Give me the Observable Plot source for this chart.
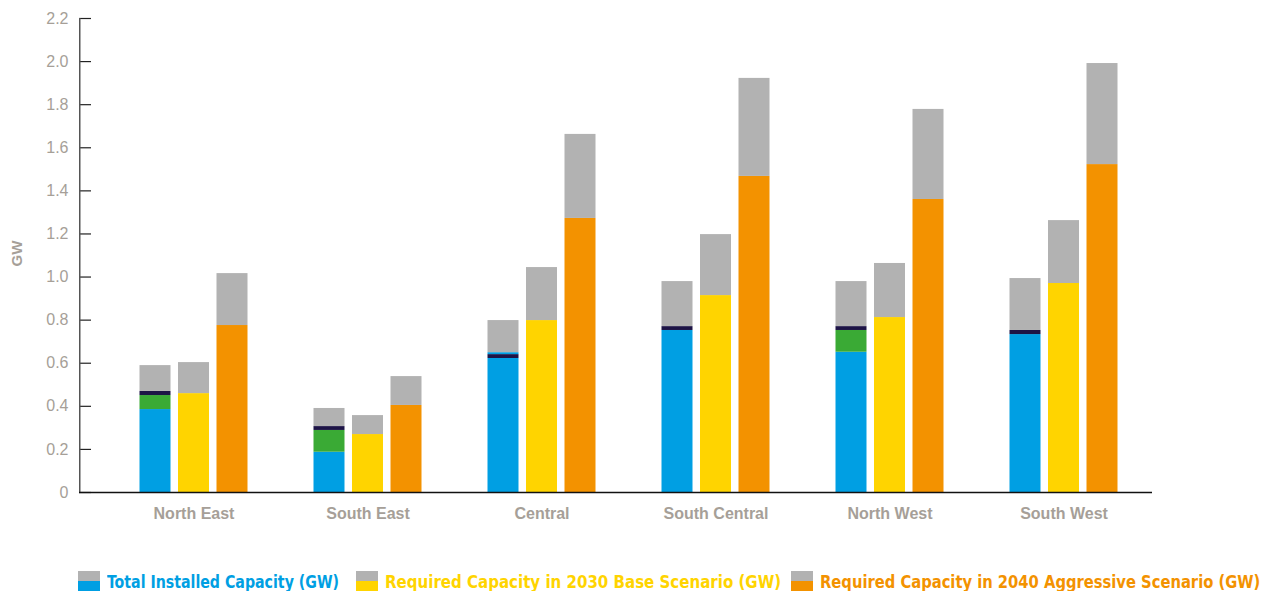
<!DOCTYPE html>
<html><head><meta charset="utf-8">
<script src="https://cdn.jsdelivr.net/npm/d3@7"></script>
<script src="https://cdn.jsdelivr.net/npm/@observablehq/plot@0.6"></script>
<style>
html,body{margin:0;padding:0;background:#fff;}
body{width:1266px;height:591px;overflow:hidden;font-family:"DejaVu Sans Condensed","Liberation Sans",sans-serif;}
#chart svg{display:block;}
#legend{position:relative;height:31px;}
.item{position:absolute;top:11px;display:flex;align-items:flex-start;}
.sw{width:22px;height:20px;margin-right:7px;flex:none;}
.lt{font-weight:bold;font-size:17.5px;line-height:22px;white-space:nowrap;transform-origin:0 50%;}
</style></head><body><div id="chart"></div><div id="legend"></div>
<script>
const regions = ["North East","South East","Central","South Central","North West","South West"];
// Total installed capacity stack components (GW)
const installedBlue  = [0.385, 0.187, 0.622, 0.752, 0.651, 0.733];
const installedGreen = [0.065, 0.101, 0.000, 0.000, 0.101, 0.000];
const installedNavy  = [0.019, 0.018, 0.018, 0.018, 0.018, 0.019];
const installedLight = [0.000, 0.000, 0.009, 0.000, 0.000, 0.000];
const installedTotal = [0.589, 0.390, 0.798, 0.979, 0.979, 0.993];
// Required capacity 2030 base scenario
const base2030  = [0.459, 0.269, 0.798, 0.914, 0.812, 0.970];
const total2030 = [0.603, 0.357, 1.044, 1.197, 1.063, 1.262];
// Required capacity 2040 aggressive scenario
const aggr2040  = [0.775, 0.404, 1.272, 1.467, 1.360, 1.522];
const total2040 = [1.016, 0.538, 1.662, 1.922, 1.778, 1.991];
const yTicks = [0, 0.2, 0.4, 0.6, 0.8, 1.0, 1.2, 1.4, 1.6, 1.8, 2.0, 2.2];
const seriesNames = ["Total Installed Capacity (GW)", "Required Capacity in 2030 Base Scenario (GW)", "Required Capacity in 2040 Aggressive Scenario (GW)"];
const seriesColors = ["#009FE3", "#FFD400", "#F39200"];
const segKeys = ["segA","segB","segC","segD","seg2030","seg2040","segRest"];
const segColors = ["#009FE3","#3AAA35","#1D1446","#009FE3","#FFD400","#F39200","#B2B2B2"];

const rows = [];
regions.forEach((r, i) => {
  const parts = [["segA", installedBlue[i]], ["segB", installedGreen[i]], ["segC", installedNavy[i]], ["segD", installedLight[i]]];
  const s = parts.reduce((a, p) => a + p[1], 0);
  parts.push(["segRest", installedTotal[i] - s]);
  parts.forEach(([k, v]) => rows.push({region: r, scenario: 0, seg: k, value: v}));
  rows.push({region: r, scenario: 1, seg: "seg2030", value: base2030[i]});
  rows.push({region: r, scenario: 1, seg: "segRest", value: total2030[i] - base2030[i]});
  rows.push({region: r, scenario: 2, seg: "seg2040", value: aggr2040[i]});
  rows.push({region: r, scenario: 2, seg: "segRest", value: total2040[i] - aggr2040[i]});
});

const W = 1266, H = 560, ML = 79, MR = 114, MT = 18, MB = H - 492;
const frameW = W - ML - MR;
const step = 174, bw = 31;
const pi = 1 - bw / step;
const po = (frameW / step - regions.length + pi) / 2;
const extra = frameW - step * (regions.length - pi);
const align = 99 / extra;
const offsets = [-38.5, 0, 38.5];
const txt = "#A69F98";

const barMarks = [0, 1, 2].map(s => Plot.barY(rows.filter(d => d.scenario === s), {
  x: "region", y: "value", fill: "seg", dx: offsets[s]
}));

const plot = Plot.plot({
  width: W, height: H,
  marginLeft: ML, marginRight: MR, marginTop: MT, marginBottom: MB,
  style: {fontFamily: '"Liberation Sans","Arimo",sans-serif', background: "#fff"},
  x: {domain: regions, paddingInner: pi, paddingOuter: po, align: align, round: false},
  y: {domain: [0, 2.2]},
  color: {domain: segKeys, range: segColors},
  marks: [
    ...barMarks,
    Plot.tickY(yTicks, {y: d => d, insetRight: frameW - 12, stroke: "#222", strokeWidth: 1.2}),
    Plot.barY([2.2], {y: d => d, insetRight: frameW - 1.5, fill: "#555"}),
    Plot.axisY({ticks: yTicks, tickSize: 0, tickPadding: 11, tickFormat: d => d === 0 ? "0" : d.toFixed(1), fontSize: 16, fill: txt, label: null}),
    Plot.axisX({tickSize: 0, tickPadding: 15, fontSize: 16, fontWeight: "bold", fill: txt, label: null}),
    Plot.ruleY([0], {stroke: "#111", strokeWidth: 1.5}),
    Plot.text(["GW"], {frameAnchor: "left", rotate: -90, dx: -62, dy: -2, textAnchor: "middle", fontWeight: "bold", fontSize: 15, fill: txt})
  ]
});
document.getElementById("chart").appendChild(plot);

const legendLeft = [78, 356, 791];
const legendScale = [0.9, 0.955, 0.936];
const lg = document.getElementById("legend");
seriesNames.forEach((n, i) => {
  const it = document.createElement("div"); it.className = "item"; it.style.left = legendLeft[i] + "px";
  const sw = document.createElement("div"); sw.className = "sw";
  sw.style.background = `linear-gradient(to bottom, #B2B2B2 0 50%, ${seriesColors[i]} 50% 100%)`;
  const t = document.createElement("div"); t.className = "lt"; t.textContent = n; t.style.color = seriesColors[i];
  t.style.transform = `scaleX(${legendScale[i]})`;
  it.appendChild(sw); it.appendChild(t); lg.appendChild(it);
});
</script></body></html>
